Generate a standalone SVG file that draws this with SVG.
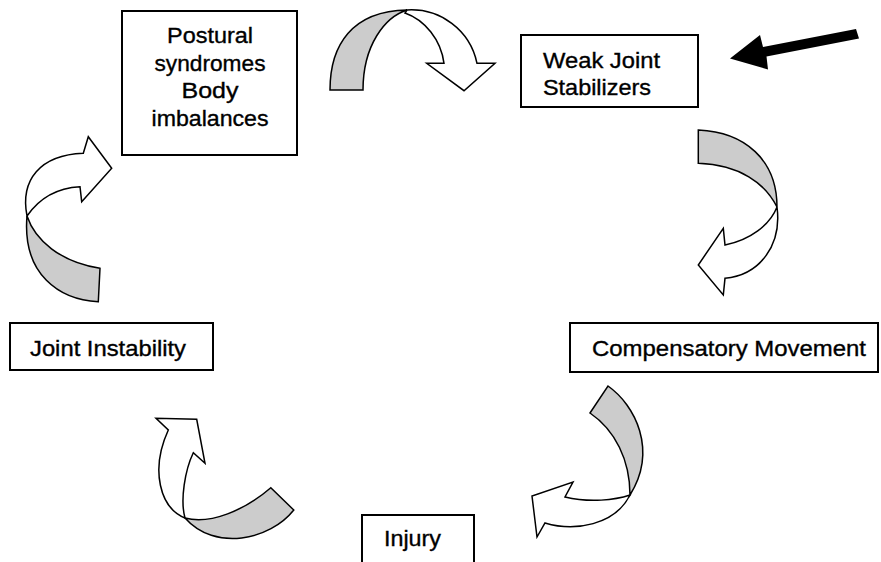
<svg xmlns="http://www.w3.org/2000/svg" width="881" height="562" viewBox="0 0 881 562">
<style>
.box{fill:#fff;stroke:#000;stroke-width:2}
.t{font-family:"Liberation Sans",Arial,sans-serif;font-size:22px;fill:#000;stroke:#000;stroke-width:0.35}
.c{text-anchor:middle}
.back{fill:#cccccc;stroke:#000;stroke-width:1.5;stroke-linejoin:miter}
.front{fill:#fff;stroke:#000;stroke-width:1.5;stroke-linejoin:miter}
</style>
<rect x="0" y="0" width="881" height="562" fill="#fff"/>
<g id="connectors">
  <g id="arrow-top">
    <path class="back" d="M330,90 C330,45 352,11 407,10 C385,17 363,45 363,90 Z"/>
    <path class="front" d="M407,10 C440,8 470,30 477,63.3 L495,63.3 L464,90.7 L426.7,63.3 L444,63.3 C441,40 425,20 405,13 Z"/>
  </g>
  <g id="arrow-right">
    <path class="back" d="M698.3,130 C745,132 777,160 777,207 C765,183 740,165 698.3,163.3 Z"/>
    <path class="front" d="M777,207 C770,225 750,240 725,245 L723.3,228.3 L698.3,265 L723.3,295 L725,278.3 C760,275 782,245 777,207 Z"/>
  </g>
  <g id="arrow-bottom-right">
    <path class="back" d="M590,413 L608,386 C635,405 658,450 630,495 C630,460 615,430 590,413 Z"/>
    <path class="front" d="M630,495 C615,500 590,503 565,497 L573,482 L532,496 L537,537 L545,523 C575,532 615,525 630,495 Z"/>
  </g>
  <g id="arrow-bottom-left">
    <path class="back" d="M270.8,487.7 L293.8,510 C270,540 215,552 185,518 C210,525 245,510 270.8,487.7 Z"/>
    <path class="front" d="M185,518 C160,508 150,470 168.3,430 L156,418.3 L196.7,419.3 L205,463.3 L193.3,452.7 C185,470 180,500 185,518 Z"/>
  </g>
  <g id="arrow-left">
    <path class="back" d="M100,268.3 L98.3,301.7 C60,300 22,275 27,216 C35,240 60,262 100,268.3 Z"/>
    <path class="front" d="M27,216 C20,180 40,155 83.3,153.3 L88.3,136.7 L111.7,168.3 L81.7,201.7 L80,186.7 C55,188 38,200 27,216 Z"/>
  </g>
  <g id="arrow-black">
    <polygon points="856,29 763,47 760,35 730,58.5 768,69.5 766.5,56.5 859,38.5" fill="#000"/>
  </g>
</g>
<g id="node-postural">
  <rect class="box" x="122" y="11" width="175" height="144"/>
  <text class="t c" x="210" y="43" textLength="86" lengthAdjust="spacingAndGlyphs">Postural</text>
  <text class="t c" x="210" y="70.5" textLength="111" lengthAdjust="spacingAndGlyphs">syndromes</text>
  <text class="t c" x="210" y="98" textLength="57" lengthAdjust="spacingAndGlyphs">Body</text>
  <text class="t c" x="210" y="125.5" textLength="117" lengthAdjust="spacingAndGlyphs">imbalances</text>
</g>
<g id="node-weak">
  <rect class="box" x="521" y="35" width="177" height="72"/>
  <text class="t" x="543" y="68" textLength="117" lengthAdjust="spacingAndGlyphs">Weak Joint</text>
  <text class="t" x="543" y="95" textLength="108" lengthAdjust="spacingAndGlyphs">Stabilizers</text>
</g>
<g id="node-compensatory">
  <rect class="box" x="570" y="323" width="308" height="49"/>
  <text class="t" x="592" y="356" textLength="274" lengthAdjust="spacingAndGlyphs">Compensatory Movement</text>
</g>
<g id="node-injury">
  <rect class="box" x="362" y="515" width="112" height="60"/>
  <text class="t" x="384" y="546" textLength="57" lengthAdjust="spacingAndGlyphs">Injury</text>
</g>
<g id="node-joint-instability">
  <rect class="box" x="10" y="323" width="203" height="47"/>
  <text class="t" x="30" y="356" textLength="156" lengthAdjust="spacingAndGlyphs">Joint Instability</text>
</g>
</svg>
